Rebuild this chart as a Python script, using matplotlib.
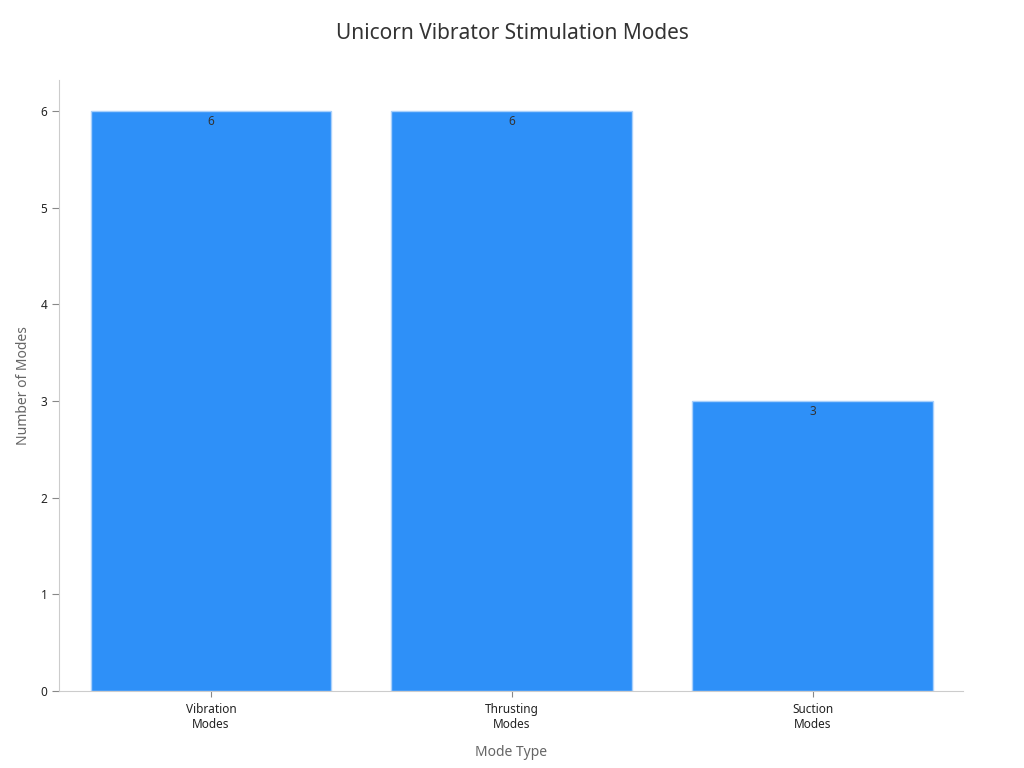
import matplotlib
matplotlib.use('Agg')
import matplotlib.pyplot as plt

plt.rcParams['font.family'] = ['Noto Sans', 'DejaVu Sans']

categories = ['Vibration\nModes', 'Thrusting\nModes', 'Suction\nModes']
counts = [6, 6, 3]

fig = plt.figure(figsize=(10.24, 7.68), dpi=100)
ax = fig.add_axes([0.0576, 0.1003, 0.8828, 0.7955])

x = range(len(categories))
bars = ax.bar(x, counts, width=0.8, color='#2E90F8', edgecolor='#A9D0FB', linewidth=1)
for b, v in zip(bars, counts):
    ax.annotate(str(v), (b.get_x() + b.get_width() / 2, v), xytext=(0, -3),
                textcoords='offset points', ha='center', va='top',
                fontsize=8.5, color='#333333')

ax.set_xlim(-0.505, 2.5)
ax.set_ylim(0, 6.32)
ax.set_xticks(list(x))
ax.set_xticklabels(categories, fontsize=8.5, color='#222222')
ax.set_yticks(range(7))
ax.tick_params(axis='y', labelsize=8.5, labelcolor='#222222', color='#888888', length=5)
ax.tick_params(axis='x', color='#888888', length=4, pad=4.5)

for s in ['top', 'right']:
    ax.spines[s].set_visible(False)
for s in ['left', 'bottom']:
    ax.spines[s].set_color('#CCCCCC')

ax.set_xlabel('Mode Type', fontsize=10, color='#666666', labelpad=10)
ax.set_ylabel('Number of Modes', fontsize=10, color='#666666', labelpad=7)
fig.suptitle('Unicorn Vibrator Stimulation Modes', fontsize=15, color='#333333', y=0.97)

fig.savefig('out.png', dpi=100)
